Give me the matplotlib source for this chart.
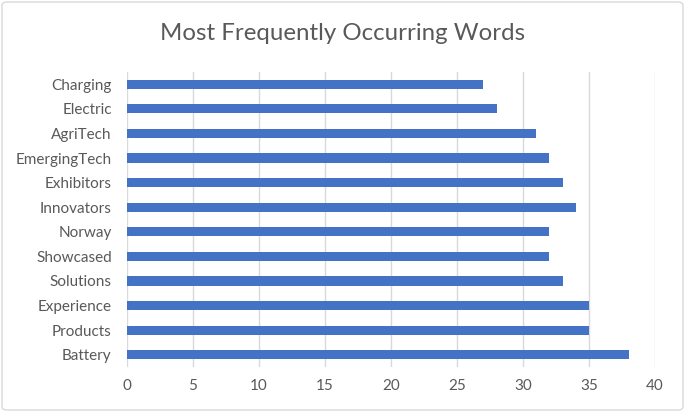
import matplotlib
matplotlib.use('Agg')
import matplotlib.pyplot as plt
from matplotlib.patches import FancyBboxPatch

words = ["Charging", "Electric", "AgriTech", "EmergingTech", "Exhibitors",
         "Innovators", "Norway", "Showcased", "Solutions", "Experience",
         "Products", "Battery"]
counts = [27, 28, 31, 32, 33, 34, 32, 32, 33, 35, 35, 38]
x_ticks = [0, 5, 10, 15, 20, 25, 30, 35, 40]

plt.rcParams['font.family'] = ['Lato', 'DejaVu Sans']
text_col = '#595959'

fig = plt.figure(figsize=(6.85, 4.12), dpi=100)
ax = fig.add_axes([127/685, 1 - 367/412, (655-127)/685, (367-72)/412])

ypos = list(range(len(words)))[::-1]
ax.barh(ypos, counts, height=0.37, color='#4472C4', zorder=3)

ax.set_xlim(0, 40)
ax.set_ylim(-0.5, len(words) - 0.5)
ax.set_xticks(x_ticks)
ax.set_xticklabels([str(t) for t in x_ticks])
ax.set_yticks(ypos)
ax.set_yticklabels(words)
ax.tick_params(axis='both', length=0, labelsize=11, labelcolor=text_col)
ax.tick_params(axis='x', pad=9)
ax.tick_params(axis='y', pad=11)
ax.grid(axis='x', color='#D9D9D9', linewidth=1, zorder=0)
for s in ax.spines.values():
    s.set_visible(False)

fig.text(0.5, 1 - 33/412, "Most Frequently Occurring Words", ha='center',
         va='center', fontsize=17.3, color=text_col)

border = FancyBboxPatch((2/685, 2/412), 681/685, 408/412,
                        boxstyle="round,pad=0,rounding_size=0.008",
                        transform=fig.transFigure, fill=False,
                        edgecolor='#D9D9D9', linewidth=1)
fig.patches.append(border)

fig.savefig('out.png', dpi=100)
